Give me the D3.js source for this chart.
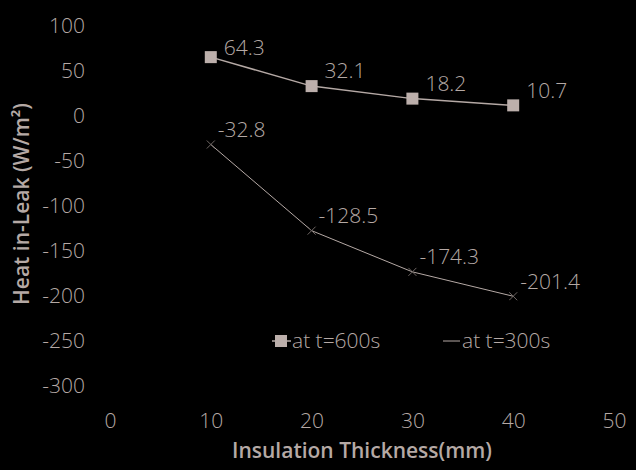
<!DOCTYPE html>
<html>
<head>
<meta charset="utf-8">
<script src="https://cdn.jsdelivr.net/npm/d3@7"></script>
<style>
  body { margin: 0; background: #000; }
  text { font-family: "Open Sans", sans-serif; fill: #b5a9a5; }
</style>
</head>
<body>
<div id="chart"></div>
<script>
// chart values
var thickness = [10, 20, 30, 40];
var leak600 = [64.3, 32.1, 18.2, 10.7];
var leak300 = [-32.8, -128.5, -174.3, -201.4];
var xTicks = [0, 10, 20, 30, 40, 50];
var yTicks = [100, 50, 0, -50, -100, -150, -200, -250, -300];
var seriesNames = ["at t=600s", "at t=300s"];

var svgWidth = 636;
var svgHeight = 470;
var ink = "#b5a9a5";
var fontSize = 21;

var svg = d3.select("#chart")
  .append("svg")
  .attr("width", svgWidth)
  .attr("height", svgHeight)
  .style("background", "#000");

var xScale = d3.scaleLinear().domain([0, 50]).range([110, 614]);
var yScale = d3.scaleLinear().domain([100, -300]).range([25, 385]);

// axes without lines, labels only (plain hyphen for negatives)
var plain = function(d) { return String(d); };
var bottomAxis = d3.axisBottom(xScale).tickValues(xTicks).tickSize(0).tickFormat(plain);
var leftAxis = d3.axisLeft(yScale).tickValues(yTicks).tickSize(0).tickFormat(plain);

var xg = svg.append("g")
  .attr("transform", "translate(0, 418)")
  .call(bottomAxis);
var yg = svg.append("g")
  .attr("transform", "translate(88, 0)")
  .call(leftAxis);

[xg, yg].forEach(function(g) {
  g.select(".domain").remove();
  g.selectAll("text")
    .attr("font-size", fontSize)
    .attr("font-family", "Open Sans, sans-serif")
    .attr("font-weight", 300)
    .attr("fill", ink);
});
yg.selectAll("text").attr("dy", "0.35em");
xg.selectAll("text").attr("dy", "0.35em");

var line = d3.line()
  .x(function(d, i) { return xScale(thickness[i]); })
  .y(function(d) { return yScale(d); });

// series at t=600s
svg.append("path")
  .datum(leak600)
  .attr("d", line)
  .attr("fill", "none")
  .attr("stroke", ink)
  .attr("stroke-width", 1.5);

svg.selectAll(".sq")
  .data(leak600)
  .enter()
  .append("rect")
  .attr("class", "sq")
  .attr("x", function(d, i) { return xScale(thickness[i]) - 6; })
  .attr("y", function(d) { return yScale(d) - 6; })
  .attr("width", 12)
  .attr("height", 12)
  .attr("fill", "#bcafab");

// series at t=300s
svg.append("path")
  .datum(leak300)
  .attr("d", line)
  .attr("fill", "none")
  .attr("stroke", ink)
  .attr("stroke-width", 1);

svg.selectAll(".cross")
  .data(leak300)
  .enter()
  .append("path")
  .attr("class", "cross")
  .attr("transform", function(d, i) { return `translate(${xScale(thickness[i])}, ${yScale(d)})`; })
  .attr("d", "M-4,-4L4,4M-4,4L4,-4")
  .attr("stroke", "#6f6764")
  .attr("stroke-width", 1);

// data labels, digits start a bit right of the point
function addLabels(values) {
  svg.selectAll(null)
    .data(values)
    .enter()
    .append("text")
    .attr("x", function(d, i) { return xScale(thickness[i]) + (d < 0 ? 7 : 13); })
    .attr("y", function(d) { return Math.max(yScale(d) - 15, 48); })
    .attr("dy", "0.35em")
    .attr("font-size", fontSize)
    .attr("font-weight", 300)
    .text(function(d) { return String(d); });
}
addLabels(leak600);
addLabels(leak300);

// legend
var legend = svg.append("g").attr("transform", "translate(0, 341)");
legend.append("line")
  .attr("x1", 272).attr("x2", 291)
  .attr("stroke", ink).attr("stroke-width", 1.5);
legend.append("rect")
  .attr("x", 275).attr("y", -6)
  .attr("width", 12).attr("height", 12)
  .attr("fill", "#bcafab");
legend.append("text")
  .attr("x", 292).attr("dy", "0.35em")
  .attr("font-size", fontSize).attr("font-weight", 300)
  .text(seriesNames[0]);
legend.append("line")
  .attr("x1", 443).attr("x2", 460)
  .attr("stroke", ink).attr("stroke-width", 1);
legend.append("text")
  .attr("x", 462).attr("dy", "0.35em")
  .attr("font-size", fontSize).attr("font-weight", 300)
  .text(seriesNames[1]);

// axis titles
svg.append("text")
  .attr("transform", "translate(362, 451)")
  .attr("text-anchor", "middle")
  .attr("dy", "0.35em")
  .attr("font-size", fontSize)
  .attr("font-weight", 600)
  .text("Insulation Thickness(mm)");

svg.append("text")
  .attr("transform", "translate(22, 204) rotate(-90)")
  .attr("text-anchor", "middle")
  .attr("dy", "0.35em")
  .attr("font-size", fontSize)
  .attr("font-weight", 600)
  .text("Heat in-Leak (W/m²)");
</script>
</body>
</html>
